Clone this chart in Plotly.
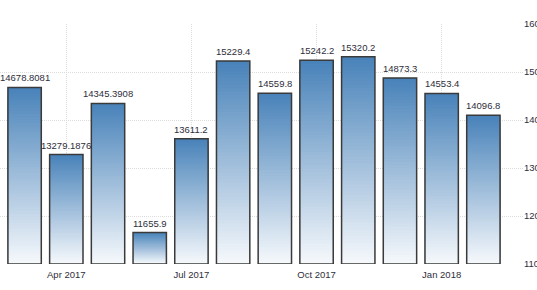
import plotly.graph_objects as go

months = ["Mar 2017", "Apr 2017", "May 2017", "Jun 2017", "Jul 2017", "Aug 2017",
          "Sep 2017", "Oct 2017", "Nov 2017", "Dec 2017", "Jan 2018", "Feb 2018"]
values = [14678.8081, 13279.1876, 14345.3908, 11655.9, 13611.2, 15229.4,
          14559.8, 15242.2, 15320.2, 14873.3, 14553.4, 14096.8]
labels = ["14678.8081", "13279.1876", "14345.3908", "11655.9", "13611.2", "15229.4",
          "14559.8", "15242.2", "15320.2", "14873.3", "14553.4", "14096.8"]
tick_months = ["Apr 2017", "Jul 2017", "Oct 2017", "Jan 2018"]
y_ticks = [11000, 12000, 13000, 14000, 15000, 16000]
y_tick_text = ["11000", "12000", "13000", "14000", "15000", "16000"]

Y0 = 11000
N = 60
top_rgb = (72, 130, 185)
bot_rgb = (246, 249, 252)
FONT = dict(family="Liberation Sans, Arial", size=9.5, color="#2e2e3a")

fig = go.Figure()
xs = list(range(len(months)))
for i in range(N):
    frac_h = (N - i) / N
    f = (N - i - 0.5) / N
    c = tuple(round(bot_rgb[k] + (top_rgb[k] - bot_rgb[k]) * f) for k in range(3))
    fig.add_trace(go.Bar(
        x=xs, y=[(v - Y0) * frac_h for v in values], base=[Y0] * len(values),
        marker=dict(color="rgb(%d,%d,%d)" % c, line=dict(width=0)),
        hoverinfo="skip", showlegend=False,
    ))

fig.add_trace(go.Bar(
    x=xs, y=[v - Y0 for v in values], base=[Y0] * len(values),
    marker=dict(color="rgba(0,0,0,0)", line=dict(color="#3a3a3a", width=1.5)),
    hoverinfo="skip", showlegend=False,
))

for xv, v, t in zip(xs, values, labels):
    fig.add_annotation(x=xv, y=v, text=t, showarrow=False, yanchor="bottom",
                       yshift=2, font=FONT)

fig.update_layout(
    width=537, height=290,
    margin=dict(l=0, r=14, t=24, b=26, autoexpand=False),
    barmode="overlay", bargap=0.2,
    plot_bgcolor="white", paper_bgcolor="white",
    showlegend=False,
)
fig.update_xaxes(
    range=[-0.59, 11.95], automargin=False,
    tickvals=[months.index(m) for m in tick_months], ticktext=tick_months,
    showgrid=True, gridcolor="#dcdcdc", griddash="1px,1px", gridwidth=1,
    ticks="", zeroline=False, showline=False, ticklabelstandoff=3,
    tickfont=FONT,
)
fig.update_yaxes(
    range=[Y0, 16000], side="right", tickvals=y_ticks, ticktext=y_tick_text,
    automargin=False,
    showgrid=True, gridcolor="#dcdcdc", griddash="1px,1px", gridwidth=1,
    ticks="", zeroline=False, showline=False,
    tickfont=FONT,
)
fig.write_html("out.html")
